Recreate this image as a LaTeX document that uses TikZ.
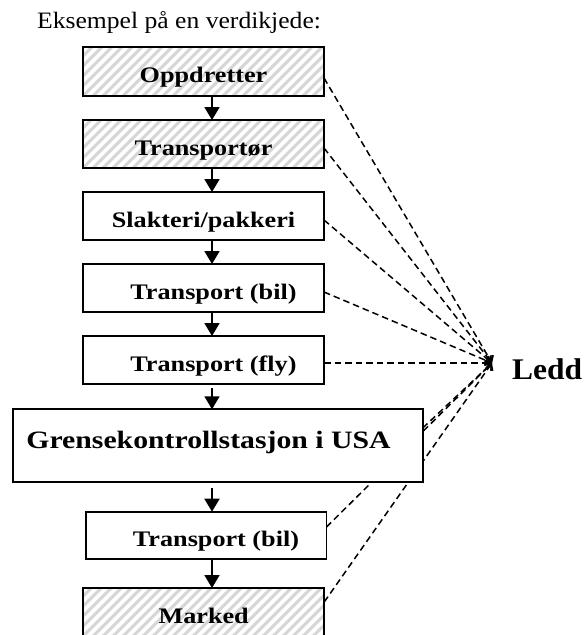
\documentclass[tikz,border=0pt]{standalone}
\usepackage{fontspec}
\setmainfont{Liberation Serif}
\newfontfamily\titlefont[FakeStretch=1.09]{Liberation Serif}
\newfontfamily\boxfont[FakeStretch=1.18]{Liberation Serif}
\newfontfamily\bigfont[FakeStretch=1.19]{Liberation Serif}
\newfontfamily\leddfont[FakeStretch=1.05]{Liberation Serif}
\usetikzlibrary{arrows.meta,calc,backgrounds}
\tikzset{
  stage/.style={draw=black, line width=1.8pt, fill=white, inner sep=0pt, outer sep=0pt,
    minimum width=241pt, minimum height=48pt, text height=22.4pt, text depth=0pt,
    font=\boxfont\bfseries\fontsize{22.2}{26}\selectfont},
  hatch/.style={path picture={
    \foreach \i in {-7,...,26}{
      \draw[line width=3pt, black!16] ([xshift=\i*10pt]path picture bounding box.south west) -- ++(70,-70);
    }}},
  flow/.style={line width=1.8pt, -{Triangle[length=13pt,width=15pt]}},
  link/.style={line width=1.5pt, dash pattern=on 6.5pt off 4pt, -{Straight Barb[length=5pt,width=10pt,line width=1.5pt]}}
}
\begin{document}
\begin{tikzpicture}[x=1pt,y=-1pt]
\useasboundingbox (0,0) rectangle (587,635);
\node[anchor=base west, inner sep=0pt, font=\titlefont\fontsize{23.5}{28}\selectfont] (title) at (37,28) {Eksempel på en verdikjede:};
\node[stage, hatch, minimum height=49pt] (b1) at (203.5,71.5) {Oppdretter};
\node[stage, hatch] (b2) at (203.5,144) {Transportør};
\node[stage] (b3) at (203.5,216) {Slakteri/pakkeri};
\node[stage] (b4) at (203.5,288) {\hspace*{20pt}Transport (bil)};
\node[stage] (b5) at (203.5,360) {\hspace*{20pt}Transport (fly)};
\node[stage, minimum width=409.4pt, minimum height=72.4pt, text height=5.6pt,
  font=\bigfont\bfseries\fontsize{25}{30}\selectfont] (g) at (218,445.5) {Grensekontrollstasjon i USA\hspace*{19pt}};
\node[stage, minimum width=240.5pt, minimum height=47.6pt] (b7) at (206.25,535.5) {\hspace*{19.5pt}Transport (bil)};
\node[stage, hatch] (b8) at (203.7,612) {Marked};
\node[anchor=base west, inner sep=0pt, font=\leddfont\bfseries\fontsize{30}{36}\selectfont] (ledd) at (512,379) {Ledd};
\coordinate (conv) at (492,363);
\coordinate (ax) at (212,0);
\draw[flow] (b1.south -| ax) -- (b2.north -| ax);
\draw[flow] (b2.south -| ax) -- (b3.north -| ax);
\draw[flow] (b3.south -| ax) -- (b4.north -| ax);
\draw[flow] (b4.south -| ax) -- (b5.north -| ax);
\draw[flow] ($(b5.south -| ax)+(0,4)$) -- (g.north -| ax);
\draw[flow] ($(g.south -| ax)+(0,6)$) -- (b7.north -| ax);
\draw[flow] (b7.south -| ax) -- (b8.north -| ax);
\begin{scope}[on background layer]
\draw[link] ([yshift=-6.5pt]b1.east) -- (conv);
\draw[link] ([yshift=-4pt]b2.east) -- (conv);
\draw[link] ([yshift=-4pt]b3.east) -- (conv);
\draw[link] ([yshift=-4pt]b4.east) -- (conv);
\draw[link] ([yshift=-3pt]b5.east) -- (conv);
\draw[link] ([yshift=17.5pt]g.east) -- (conv);
\draw[link] ([yshift=8.5pt]b7.east) -- (conv);
\draw[link] ([yshift=10pt]b8.east) -- (conv);
\end{scope}
\end{tikzpicture}
\end{document}
